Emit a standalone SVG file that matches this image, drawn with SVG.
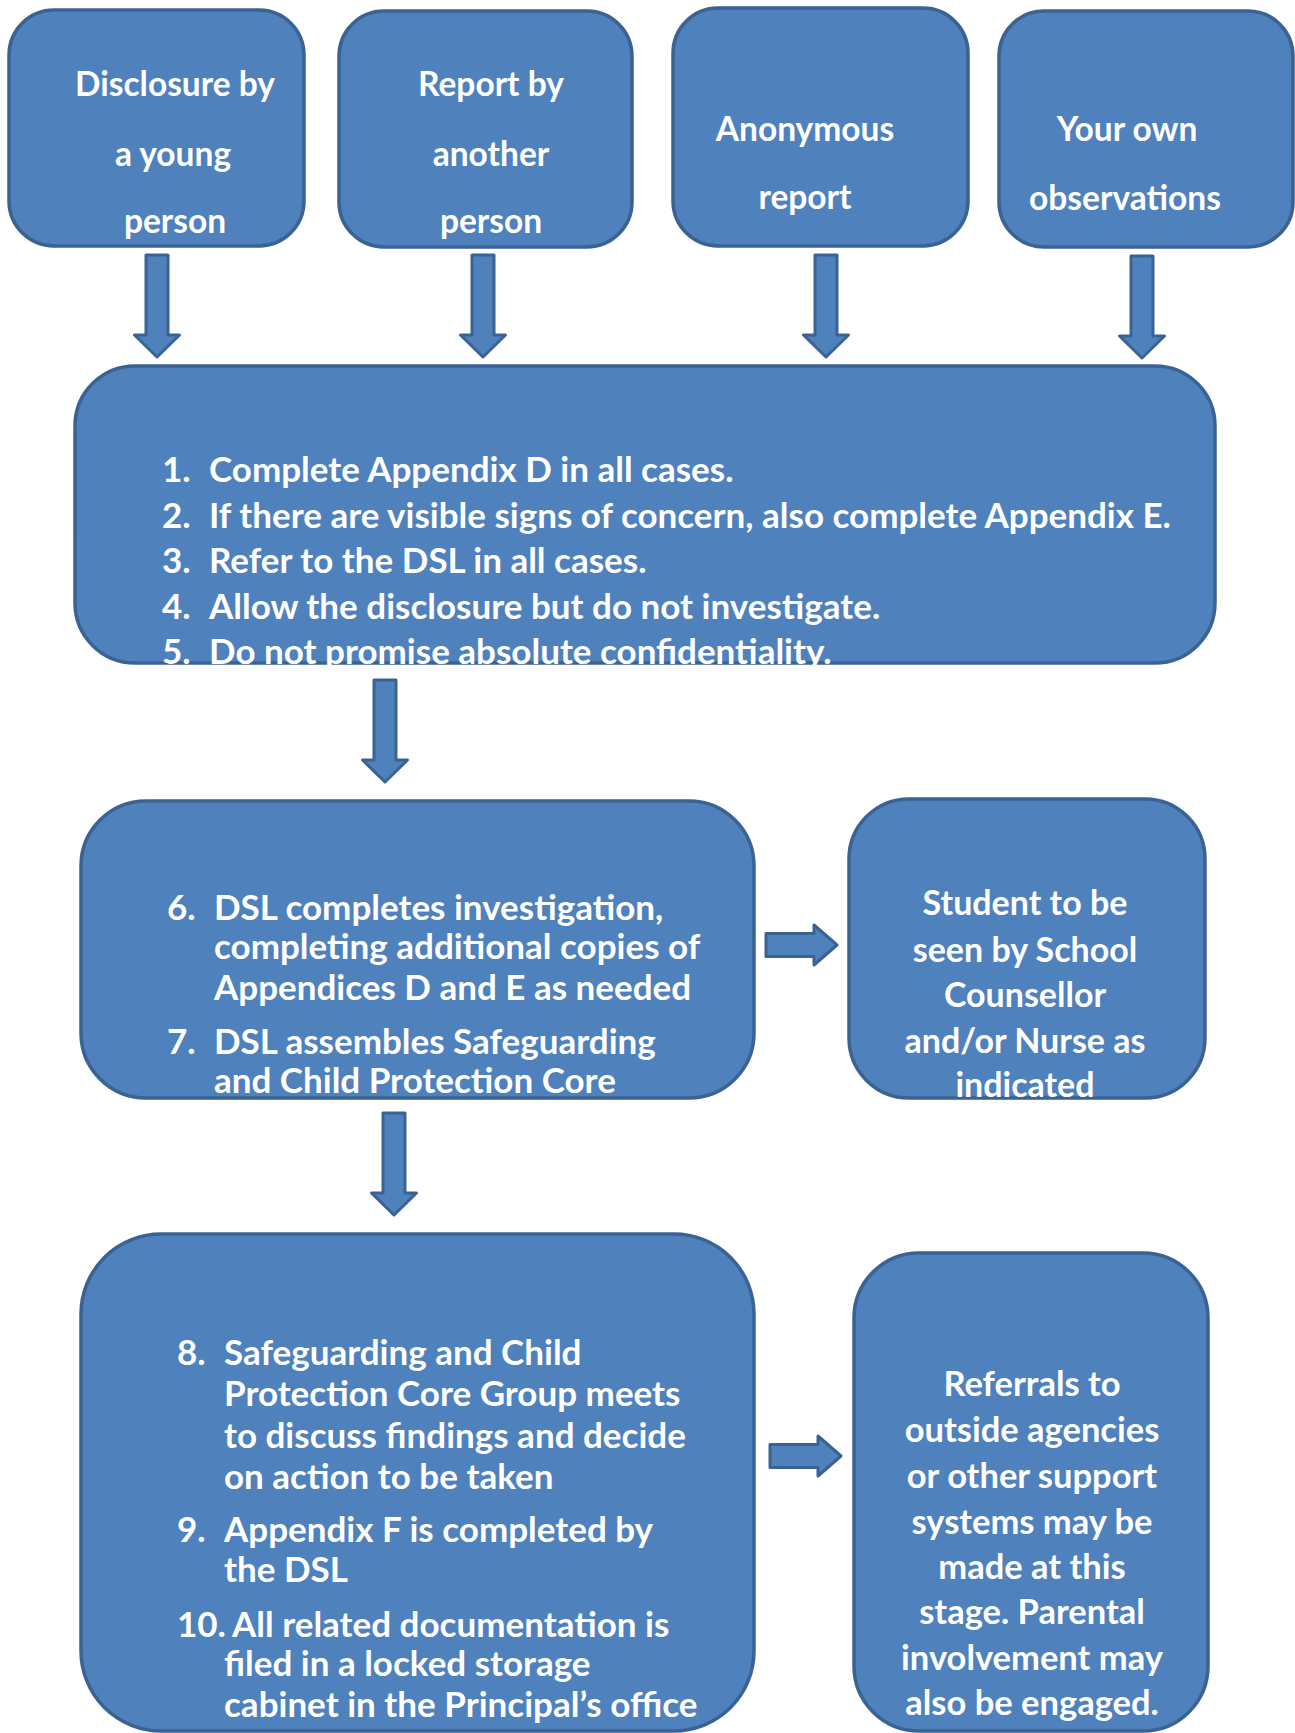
<svg xmlns="http://www.w3.org/2000/svg" width="1295" height="1733" viewBox="0 0 1295 1733">
<style>
.box{fill:#4F81BD;stroke:#3A6292;stroke-width:3.5}
.arr{fill:#4F81BD;stroke:#3A6292;stroke-width:3;stroke-linejoin:round}
text{font-family:Lato,"Open Sans","Liberation Sans",sans-serif;font-weight:700;fill:#FFFFFF;font-size:31px}
.c{text-anchor:middle}
.top text{font-size:33.5px}
.list text{font-size:35px}
.stu text{font-size:34px}
.ref text{font-size:34.5px}
</style>
<defs>
<path id="down" d="M-11,0 H11 V80 H22.5 L0,102 L-22.5,80 H-11 Z"/>
<path id="right" d="M0,-11.5 H48 V-20 L71,0 L48,20 V11.5 H0 Z"/>
<clipPath id="clipMain"><rect x="73" y="364" width="1144" height="301" rx="60"/></clipPath>
<clipPath id="clip67"><rect x="79" y="799" width="677" height="301" rx="65"/></clipPath>
<clipPath id="clipStu"><rect x="847" y="797" width="360" height="303" rx="60"/></clipPath>
</defs>

<g id="node-disclosure" class="top">
<rect class="box" x="9" y="10" width="295" height="236" rx="45"/>
<text class="c" x="175" y="96">Disclosure by</text>
<text class="c" x="173" y="166">a young</text>
<text class="c" x="175" y="233">person</text>
</g>

<g id="node-report" class="top">
<rect class="box" x="339" y="11" width="293" height="236" rx="45"/>
<text class="c" x="491" y="96">Report by</text>
<text class="c" x="491" y="166">another</text>
<text class="c" x="491" y="233">person</text>
</g>

<g id="node-anonymous" class="top">
<rect class="box" x="673" y="8" width="295" height="238" rx="45"/>
<text class="c" x="805" y="141">Anonymous</text>
<text class="c" x="805" y="209">report</text>
</g>

<g id="node-observations" class="top">
<rect class="box" x="999" y="11" width="294" height="236" rx="45"/>
<text class="c" x="1127" y="141">Your own</text>
<text class="c" x="1125" y="210">observations</text>
</g>

<g id="node-steps1to5" class="list">
<rect class="box" x="75" y="366" width="1140" height="297" rx="60"/>
<g clip-path="url(#clipMain)">
<text x="162" y="482">1.</text><text x="209" y="482">Complete Appendix D in all cases.</text>
<text x="162" y="528">2.</text><text x="209" y="528">If there are visible signs of concern, also complete Appendix E.</text>
<text x="162" y="573">3.</text><text x="209" y="573">Refer to the DSL in all cases.</text>
<text x="162" y="619">4.</text><text x="209" y="619">Allow the disclosure but do not investigate.</text>
<text x="162" y="664">5.</text><text x="209" y="664">Do not promise absolute confidentiality.</text>
</g>
</g>

<g id="node-steps6to7" class="list">
<rect class="box" x="81" y="801" width="673" height="297" rx="65"/>
<g clip-path="url(#clip67)">
<text x="167" y="920">6.</text><text x="214" y="920">DSL completes investigation,</text>
<text x="214" y="959">completing additional copies of</text>
<text x="214" y="1000">Appendices D and E as needed</text>
<text x="167" y="1054">7.</text><text x="214" y="1054">DSL assembles Safeguarding</text>
<text x="214" y="1093">and Child Protection Core</text>
</g>
</g>

<g id="node-counsellor" class="stu">
<rect class="box" x="849" y="799" width="356" height="299" rx="60"/>
<g clip-path="url(#clipStu)">
<text class="c" x="1025" y="915">Student to be</text>
<text class="c" x="1025" y="962">seen by School</text>
<text class="c" x="1025" y="1007">Counsellor</text>
<text class="c" x="1025" y="1053">and/or Nurse as</text>
<text class="c" x="1025" y="1097">indicated</text>
</g>
</g>

<g id="node-steps8to10" class="list">
<rect class="box" x="81" y="1234" width="673" height="497" rx="80"/>
<text x="177" y="1365">8.</text><text x="224" y="1365">Safeguarding and Child</text>
<text x="224" y="1406">Protection Core Group meets</text>
<text x="224" y="1448">to discuss findings and decide</text>
<text x="224" y="1489">on action to be taken</text>
<text x="177" y="1542">9.</text><text x="224" y="1542">Appendix F is completed by</text>
<text x="224" y="1582">the DSL</text>
<text x="177" y="1637">10.</text><text x="232" y="1637">All related documentation is</text>
<text x="224" y="1676">filed in a locked storage</text>
<text x="224" y="1717">cabinet in the Principal’s office</text>
</g>

<g id="node-referrals" class="ref">
<rect class="box" x="854" y="1253" width="354" height="478" rx="65"/>
<text class="c" x="1032" y="1396">Referrals to</text>
<text class="c" x="1032" y="1442">outside agencies</text>
<text class="c" x="1032" y="1488">or other support</text>
<text class="c" x="1032" y="1534">systems may be</text>
<text class="c" x="1032" y="1579">made at this</text>
<text class="c" x="1032" y="1624">stage. Parental</text>
<text class="c" x="1032" y="1670">involvement may</text>
<text class="c" x="1032" y="1715">also be engaged.</text>
</g>

<g id="connectors">
<use href="#down" class="arr" transform="translate(157,255)"/>
<use href="#down" class="arr" transform="translate(483,255)"/>
<use href="#down" class="arr" transform="translate(826,255)"/>
<use href="#down" class="arr" transform="translate(1142,256)"/>
<use href="#down" class="arr" transform="translate(385,680)"/>
<use href="#down" class="arr" transform="translate(394,1113)"/>
<use href="#right" class="arr" transform="translate(766,945)"/>
<use href="#right" class="arr" transform="translate(770,1456)"/>
</g>
</svg>
